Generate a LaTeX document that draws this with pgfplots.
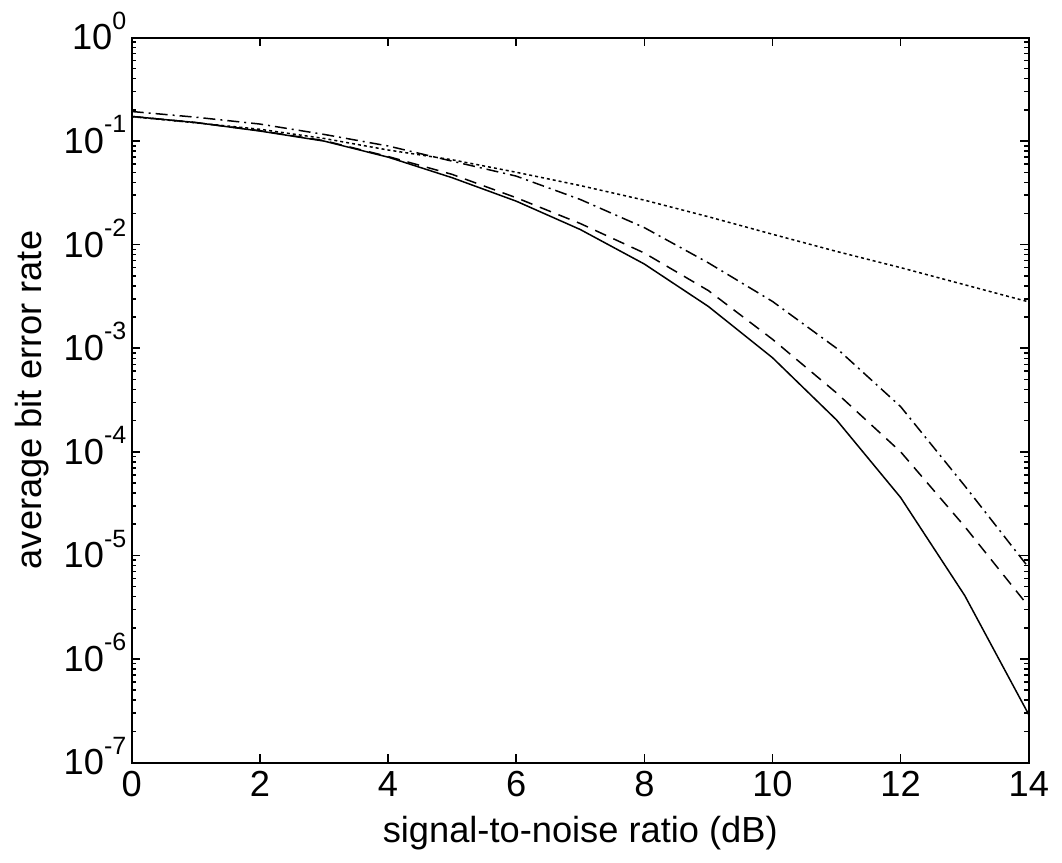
\documentclass[border=0pt]{standalone}
\usepackage{fontspec}
\setmainfont{Liberation Sans}
\usepackage{pgfplots}
\pgfplotsset{compat=1.18}

\newcommand{\lblfont}{\fontsize{14.5}{17}\selectfont}

\begin{document}
\begin{tikzpicture}
% keep the reference's margins around the plot area (1px = 0.4pt)
\useasboundingbox (-52.7pt,-40pt) rectangle (372.1pt,305pt);
\begin{semilogyaxis}[
  at={(0,0)}, anchor=south west,
  scale only axis,
  width=358.8pt, height=290pt,
  xmin=0, xmax=14, ymin=1e-7, ymax=1,
  xtick={0,2,...,14},
  ytick={1e-7,1e-6,1e-5,1e-4,1e-3,1e-2,1e-1,1},
  yticklabel={10\raisebox{8.3pt}[0pt][0pt]{\fontsize{10}{10}\selectfont\pgfmathparse{int(round(\tick/2.302585))}\pgfmathresult}},
  /pgf/number format/assume math mode=true,
  tick label style={font=\lblfont},
  yticklabel style={inner xsep=2pt},
  label style={font=\lblfont},
  xlabel={signal-to-noise ratio (dB)},
  ylabel={average bit error rate},
  xlabel style={at={(axis description cs:0.5,-0.097)}, anchor=center},
  ylabel style={at={(axis description cs:-0.1115,0.5)}, anchor=center, rotate=0},
  axis line style={line width=0.8pt},
  major tick length=3.4pt, minor tick length=1.8pt,
  every tick/.style={black, line width=0.6pt},
  every axis plot/.append style={black, line width=0.6pt},
]
\addplot[solid] coordinates {
  (0,0.173)(1,0.151)(2,0.125)(3,0.100)(4,0.070)(5,0.0443)(6,0.0263)
  (7,0.0140)(8,0.0065)(9,0.00253)(10,0.00081)(11,0.000203)
  (12,0.0000362)(13,0.0000041)(14,0.00000029)
};
\addplot[dash pattern=on 4.8pt off 3.2pt] coordinates {
  (0,0.173)(1,0.151)(2,0.126)(3,0.101)(4,0.071)(5,0.0477)(6,0.0284)
  (7,0.0160)(8,0.0083)(9,0.0036)(10,0.00122)(11,0.00037)
  (12,0.000100)(13,0.0000190)(14,0.0000032)
};
\addplot[dash pattern=on 4.8pt off 2pt on 0.8pt off 2pt] coordinates {
  (0,0.193)(1,0.170)(2,0.146)(3,0.116)(4,0.0897)(5,0.064)(6,0.0459)
  (7,0.0273)(8,0.0146)(9,0.00667)(10,0.00283)(11,0.00100)
  (12,0.000273)(13,0.000047)(14,0.0000076)
};
\addplot[dash pattern=on 1.2pt off 1.2pt] coordinates {
  (0,0.172)(1,0.150)(2,0.130)(3,0.106)(4,0.082)(5,0.066)(6,0.050)
  (7,0.0372)(8,0.0269)(9,0.0186)(10,0.0126)(11,0.0086)
  (12,0.0060)(13,0.0041)(14,0.0028)
};
\end{semilogyaxis}
\end{tikzpicture}
\end{document}
